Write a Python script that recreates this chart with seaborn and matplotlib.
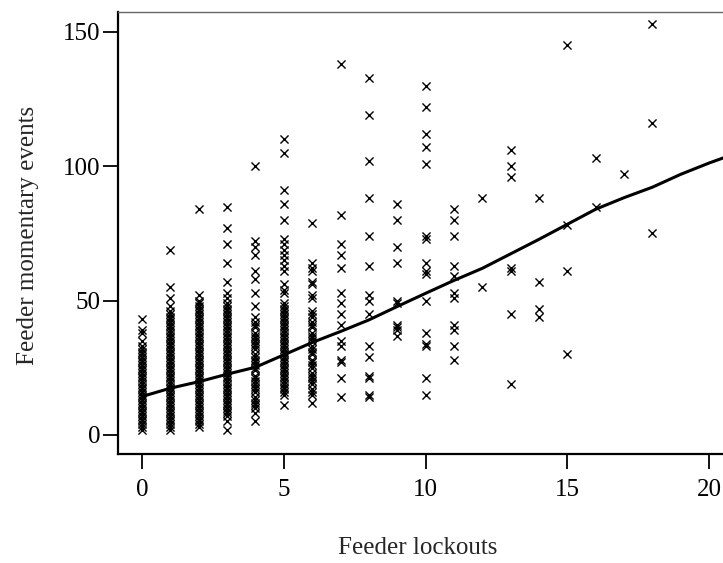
import matplotlib
matplotlib.use("Agg")
import matplotlib.pyplot as plt
import seaborn as sns
import pandas as pd

# ---- data ----
lockouts = [0, 1, 2, 3, 4, 5, 6, 7, 8, 9, 10, 11, 12, 13, 14, 15, 16, 17, 18]

events_by_lockouts = {
    0: [2, 3, 4, 5, 6, 7, 8, 9, 10, 11, 12, 13, 14, 15, 16, 17, 18, 19, 20, 21, 22,
        23, 24, 25, 26, 27, 28, 29, 30, 31, 32, 33, 35, 38, 39, 43],
    1: [2, 3, 4, 5, 6, 7, 8, 9, 10, 11, 12, 13, 14, 15, 16, 17, 18, 19, 20, 21, 22,
        23, 24, 25, 26, 27, 28, 29, 30, 31, 32, 33, 34, 35, 36, 37, 38, 39, 40, 41,
        42, 43, 44, 45, 46, 48, 51, 55, 69],
    2: [3, 4, 5, 6, 7, 8, 9, 10, 11, 12, 13, 14, 15, 16, 17, 18, 19, 20, 21, 22, 23,
        24, 25, 26, 27, 28, 29, 30, 31, 32, 33, 34, 35, 36, 37, 38, 39, 40, 41, 42,
        43, 44, 45, 46, 47, 48, 49, 50, 52, 84],
    3: [2, 5, 7, 8, 9, 10, 11, 12, 13, 14, 15, 16, 17, 18, 19, 20, 21, 22, 23, 24, 25,
        26, 27, 28, 29, 30, 31, 32, 33, 34, 35, 36, 37, 38, 39, 40, 41, 42, 43, 44,
        45, 46, 47, 48, 49, 51, 53, 57, 64, 71, 77, 85],
    4: [5, 8, 10, 11, 12, 13, 14, 16, 17, 18, 19, 20, 21, 22, 24, 25, 26, 27, 28, 29,
        30, 32, 33, 34, 35, 36, 37, 38, 40, 41, 42, 44, 48, 53, 58, 61, 67, 70, 72, 100],
    5: [11, 15, 16, 17, 18, 19, 20, 21, 22, 23, 24, 25, 26, 27, 28, 29, 30, 31, 32,
        33, 34, 35, 36, 37, 38, 39, 40, 41, 42, 43, 44, 45, 46, 47, 48, 49, 53, 54,
        56, 61, 63, 65, 67, 69, 71, 73, 80, 86, 91, 105, 110],
    6: [12, 15, 16, 17, 19, 20, 21, 22, 23, 25, 26, 27, 28, 30, 31, 32, 33, 35, 36,
        37, 38, 40, 41, 42, 44, 45, 46, 51, 52, 56, 57, 61, 62, 64, 79],
    7: [14, 21, 27, 28, 33, 35, 41, 45, 49, 53, 62, 67, 71, 82, 138],
    8: [14, 15, 21, 22, 29, 33, 45, 50, 52, 63, 74, 88, 102, 119, 133],
    9: [37, 39, 40, 41, 49, 50, 64, 70, 80, 86],
    10: [15, 21, 33, 34, 38, 50, 60, 61, 64, 73, 74, 101, 107, 112, 122, 130],
    11: [28, 33, 39, 41, 51, 53, 59, 63, 74, 80, 84],
    12: [55, 88],
    13: [19, 45, 61, 62, 96, 100, 106],
    14: [44, 47, 57, 88],
    15: [30, 61, 78, 145],
    16: [85, 103],
    17: [97],
    18: [75, 116, 153],
}

# smooth curve
smooth_x = [0, 1, 2, 3, 4, 5, 6, 7, 8, 9, 10, 11, 12, 13, 14, 15, 16, 17, 18, 19, 20, 21]
smooth_y = [14.3, 17.4, 19.8, 22.6, 25.2, 29.8, 34.4, 38.5, 42.8, 47.8, 52.7, 57.5,
            62.0, 67.4, 72.8, 78.4, 84.0, 88.3, 92.2, 97.0, 101.2, 105.0]

x_ticks = [0, 5, 10, 15, 20]
y_ticks = [0, 50, 100, 150]
x_label = "Feeder lockouts"
y_label = "Feeder momentary events"

# ---- build tables ----
rows = []
for k in lockouts:
    for v in events_by_lockouts[k]:
        rows.append((k, v))
pts = pd.DataFrame(rows, columns=["lockouts", "events"])
fit = pd.DataFrame({"lockouts": smooth_x, "events": smooth_y})

# ---- style ----
sns.set_style("ticks")
plt.rcParams["font.family"] = ["Liberation Serif", "DejaVu Serif"]

fig = plt.figure(figsize=(7.23, 5.63), dpi=100)
ax = fig.add_axes([0.1639, 0.1936, 0.846, 0.7856])

sns.scatterplot(data=pts, x="lockouts", y="events", marker="x", color="black",
                s=34, linewidth=1.0, ax=ax, legend=False, zorder=2)
sns.lineplot(data=fit, x="lockouts", y="events", color="black", linewidth=2.2,
             ax=ax, legend=False, zorder=3)

ax.set_xlim(-0.83, 20.74)
ax.set_ylim(-7.1, 157.5)
ax.set_xticks(x_ticks)
ax.set_yticks(y_ticks)
ax.tick_params(axis="both", which="major", bottom=True, left=True,
               direction="out", length=11, width=1.3,
               color="black", labelsize=18, labelcolor="black")
ax.tick_params(axis="y", pad=2)
ax.tick_params(axis="x", pad=7)

for side in ["left", "bottom"]:
    ax.spines[side].set_color("black")
    ax.spines[side].set_linewidth(1.6)
for side in ["top", "right"]:
    ax.spines[side].set_visible(True)
    ax.spines[side].set_color("#666666")
    ax.spines[side].set_linewidth(1.0)
ax.grid(False)

ax.set_xlabel(x_label, fontsize=18, va="center")
ax.set_ylabel(y_label, fontsize=18, va="center")
ax.xaxis.set_label_coords(0.4896, -0.2125)
ax.yaxis.set_label_coords(-0.148, 0.495)

fig.savefig("out.png", dpi=100)
